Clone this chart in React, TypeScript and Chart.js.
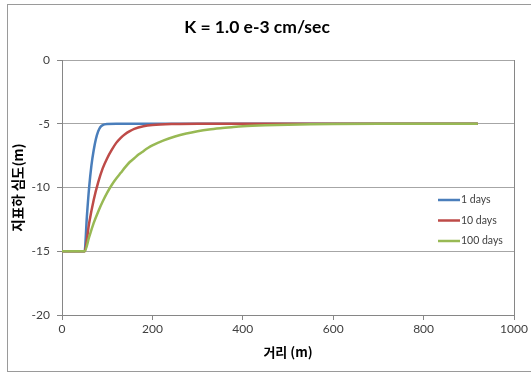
import React, { useEffect, useRef } from "react";
import { Chart, registerables } from "chart.js";

Chart.register(...registerables);

const TITLE = "K = 1.0 e-3 cm/sec";
const X_TITLE = "거리 (m)";
const Y_TITLE = "지표하 심도(m)";
const SERIES_LABELS = ["1 days", "10 days", "100 days"];
const SERIES_COLORS = ["#4A7EBB", "#BE4B48", "#98B954"];
const X_TICKS = [0, 200, 400, 600, 800, 1000];
const Y_TICKS = [0, -5, -10, -15, -20];

const day1X = [0, 50, 55, 60, 65, 70, 75, 80, 85, 90, 100, 120, 200, 400, 600, 800, 920];
const day1Y = [-15, -15, -12.3, -10, -8.3, -7.1, -6.2, -5.6, -5.25, -5.1, -5.02, -5, -5, -5, -5, -5, -5];

const day10X = [0, 50, 60, 70, 80, 90, 100, 110, 120, 130, 140, 150, 160, 180, 200, 250, 300, 400, 600, 800, 920];
const day10Y = [-15, -15, -12.8, -11.0, -9.6, -8.5, -7.7, -7.05, -6.5, -6.1, -5.8, -5.58, -5.4, -5.2, -5.1, -5.02, -5, -5, -5, -5, -5];

const day100X = [0, 50, 60, 70, 80, 90, 100, 110, 120, 130, 140, 150, 160, 170, 180, 190, 200, 225, 250, 275, 300, 325, 350, 375, 400, 450, 500, 550, 600, 700, 800, 920];
const day100Y = [-15, -15, -13.9, -12.8, -11.9, -11.1, -10.4, -9.8, -9.3, -8.85, -8.4, -8.0, -7.7, -7.4, -7.15, -6.9, -6.7, -6.3, -6.0, -5.77, -5.59, -5.45, -5.35, -5.27, -5.2, -5.12, -5.07, -5.04, -5.02, -5.005, -5, -5];

const FONT = "Lato, 'Noto Sans CJK KR', sans-serif";
const KFONT = "'Noto Sans CJK KR', Lato, sans-serif";

const toPoints = (xs: number[], ys: number[]) => xs.map((x, i) => ({ x, y: ys[i] }));

const legendPlugin = {
  id: "insideLegend",
  afterDraw(chart: any) {
    const { ctx, chartArea } = chart;
    const baseX = chartArea.right - 76;
    const baseY = chartArea.top + 140;
    ctx.save();
    ctx.font = `10.5px ${FONT}`;
    ctx.textBaseline = "middle";
    chart.data.datasets.forEach((ds: any, i: number) => {
      const y = baseY + i * 20.5;
      ctx.strokeStyle = ds.borderColor;
      ctx.lineWidth = 2.5;
      ctx.beginPath();
      ctx.moveTo(baseX, y);
      ctx.lineTo(baseX + 22, y);
      ctx.stroke();
      ctx.fillStyle = "#404040";
      ctx.textAlign = "left";
      ctx.fillText(ds.label, baseX + 23, y);
    });
    ctx.restore();
  },
};

export default function App() {
  const ref = useRef<HTMLCanvasElement>(null);
  useEffect(() => {
    if (!ref.current) return;
    const series = [
      toPoints(day1X, day1Y),
      toPoints(day10X, day10Y),
      toPoints(day100X, day100Y),
    ];
    const chart = new Chart(ref.current, {
      type: "scatter",
      data: {
        datasets: series.map((pts, i) => ({
          label: SERIES_LABELS[i],
          data: pts,
          showLine: true,
          borderColor: SERIES_COLORS[i],
          backgroundColor: SERIES_COLORS[i],
          borderWidth: 2.5,
          pointRadius: 0,
          cubicInterpolationMode: "monotone" as const,
          order: 2 - i,
        })),
      },
      options: {
        animation: false,
        responsive: false,
        devicePixelRatio: 1,
        layout: { padding: { left: 0, right: 17, top: 0, bottom: 0 } },
        plugins: {
          legend: { display: false },
          tooltip: { enabled: false },
          title: {
            display: true,
            text: TITLE,
            color: "#000",
            font: { family: FONT, size: 17.5, weight: "bold" },
            padding: { top: 17, bottom: 22 },
          },
        },
        scales: {
          x: {
            type: "linear",
            min: 0,
            max: 1000,
            afterBuildTicks: (s: any) => {
              s.ticks = X_TICKS.map((v) => ({ value: v }));
            },
            afterFit: (s: any) => {
              s.height = 58;
            },
            ticks: {
              color: "#404040",
              font: { family: FONT, size: 12 },
              padding: 2,
              maxRotation: 0,
              callback: (v: any) => String(v),
            },
            grid: {
              color: (c: any) => (c.tick && c.tick.value === 1000 ? "#868686" : "rgba(0,0,0,0)"),
              tickColor: "#868686",
              tickLength: 5,
              drawOnChartArea: true,
            },
            border: { display: true, color: "#868686", width: 1 },
            title: {
              display: true,
              text: X_TITLE,
              color: "#000",
              font: { family: KFONT, size: 13, weight: "bold" },
              padding: { top: 0, bottom: 13 },
            },
          },
          y: {
            type: "linear",
            min: -20,
            max: 0,
            afterBuildTicks: (s: any) => {
              s.ticks = Y_TICKS.map((v) => ({ value: v }));
            },
            afterFit: (s: any) => {
              s.width = 62;
            },
            ticks: {
              color: "#404040",
              font: { family: FONT, size: 12 },
              padding: 7,
              callback: (v: any) => String(v),
            },
            grid: {
              color: "#A6A6A6",
              tickColor: "#868686",
              tickLength: 5,
            },
            border: { display: true, color: "#868686", width: 1 },
            title: {
              display: true,
              text: Y_TITLE,
              color: "#000",
              font: { family: KFONT, size: 13.5, weight: "bold" },
              padding: { top: 10, bottom: 0 },
            },
          },
        },
      },
      plugins: [legendPlugin],
    });
    return () => chart.destroy();
  }, []);

  return (
    <div
      style={{
        position: "fixed",
        left: 0,
        top: 0,
        width: 531,
        height: 373,
        overflow: "hidden",
        background: "#fff",
      }}
    >
      <div
        style={{
          position: "absolute",
          left: 7,
          top: 4,
          width: 600,
          height: 368,
          boxSizing: "border-box",
          border: "1px solid #9a9a9a",
        }}
      />
      <canvas
        ref={ref}
        width={531}
        height={373}
        style={{ position: "absolute", left: 0, top: 0, width: 531, height: 373 }}
      />
    </div>
  );
}
